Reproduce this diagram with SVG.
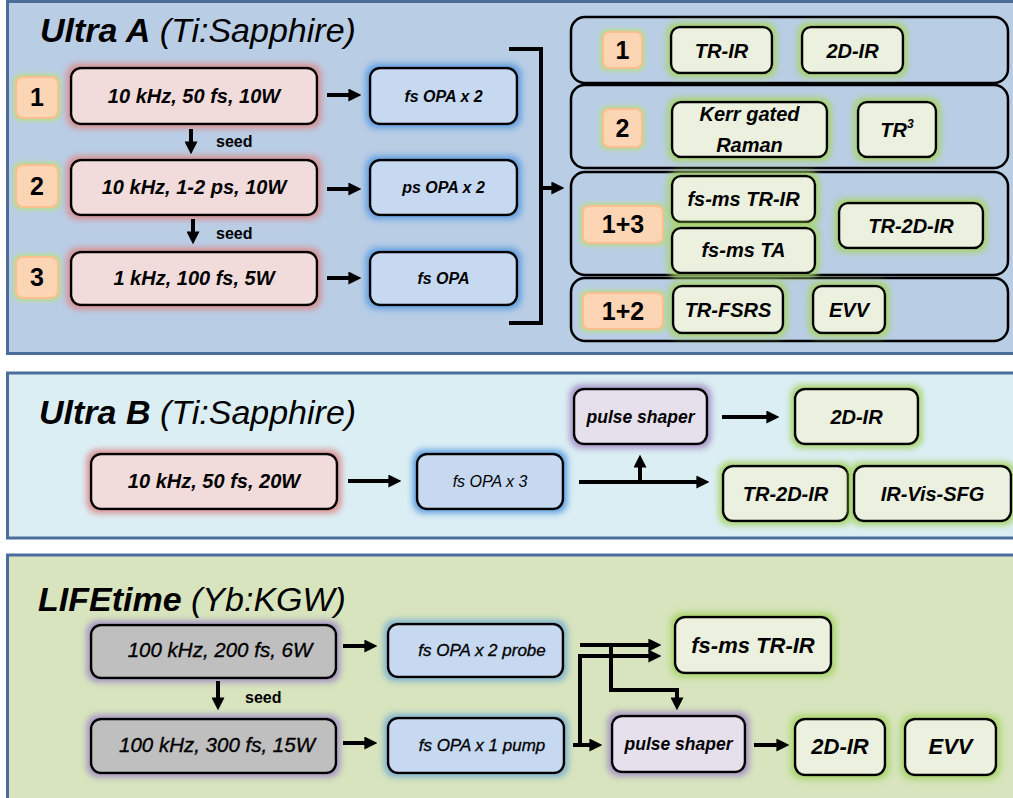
<svg xmlns="http://www.w3.org/2000/svg" width="1013" height="798" viewBox="0 0 1013 798">
<defs>
<style>
text{font-family:"Liberation Sans",Arial,sans-serif;fill:#000}
.title{font-size:34px;font-style:italic}
.b{font-weight:bold}
.lbl{font-size:20px;font-weight:bold;font-style:italic;text-anchor:middle}
.lbl22{font-size:22px;font-weight:bold;font-style:italic;text-anchor:middle}
.lblr{font-size:20.5px;font-style:italic;text-anchor:middle;stroke:#000;stroke-width:0.35}
.opa{font-size:16px;font-weight:bold;font-style:italic;text-anchor:middle}
.opar{font-size:17px;font-style:italic;text-anchor:middle;stroke:#000;stroke-width:0.3}
.shp{font-size:17.5px;font-weight:bold;font-style:italic;text-anchor:middle}
.opan{font-size:16px;font-style:italic;text-anchor:middle}
.num{font-size:25px;font-weight:bold;text-anchor:middle}
.seed{font-size:16px;font-weight:bold}
.panel{stroke:#4a6d9c;stroke-width:3}
.box{stroke:#000;stroke-width:2.5}
.red{fill:#f2dcdb;filter:url(#gRed)}
.blue{fill:#c6d9f1;filter:url(#gBlue)}
.green{fill:#ebf1de;filter:url(#gGreen)}
.purp{fill:#e6e0ec;filter:url(#gPurp)}
.gray{fill:#bfbfbf;filter:url(#gPurp)}
.blue2{fill:#c6d9f1;filter:url(#gTeal)}
.badge{fill:#fcd5b5;stroke:#f9bf8f;stroke-width:2;filter:url(#gBadge)}
.row{fill:#b9cde5;stroke:#000;stroke-width:2.5}
.conn path{stroke:#000;stroke-width:4;fill:none}
.ah{marker-end:url(#ah)}
</style>
<marker id="ah" viewBox="0 0 10 10" refX="2" refY="5" markerWidth="13" markerHeight="13" markerUnits="userSpaceOnUse" orient="auto"><path d="M0,0 L10,5 L0,10 z" fill="#000"/></marker>
<filter id="gRed" x="-15%" y="-30%" width="130%" height="160%"><feMorphology in="SourceAlpha" operator="dilate" radius="3" result="d"/><feGaussianBlur in="d" stdDeviation="3" result="bl"/><feFlood flood-color="#d98f8f"/><feComposite in2="bl" operator="in" result="g"/><feMerge><feMergeNode in="g"/><feMergeNode in="SourceGraphic"/></feMerge></filter>
<filter id="gBlue" x="-15%" y="-30%" width="130%" height="160%"><feMorphology in="SourceAlpha" operator="dilate" radius="3" result="d"/><feGaussianBlur in="d" stdDeviation="3" result="bl"/><feFlood flood-color="#5f9ee0"/><feComposite in2="bl" operator="in" result="g"/><feMerge><feMergeNode in="g"/><feMergeNode in="SourceGraphic"/></feMerge></filter>
<filter id="gGreen" x="-15%" y="-30%" width="130%" height="160%"><feMorphology in="SourceAlpha" operator="dilate" radius="3" result="d"/><feGaussianBlur in="d" stdDeviation="3" result="bl"/><feFlood flood-color="#a8d46a"/><feComposite in2="bl" operator="in" result="g"/><feMerge><feMergeNode in="g"/><feMergeNode in="SourceGraphic"/></feMerge></filter>
<filter id="gPurp" x="-15%" y="-30%" width="130%" height="160%"><feMorphology in="SourceAlpha" operator="dilate" radius="3" result="d"/><feGaussianBlur in="d" stdDeviation="3" result="bl"/><feFlood flood-color="#a592c4"/><feComposite in2="bl" operator="in" result="g"/><feMerge><feMergeNode in="g"/><feMergeNode in="SourceGraphic"/></feMerge></filter>
<filter id="gTeal" x="-15%" y="-30%" width="130%" height="160%"><feMorphology in="SourceAlpha" operator="dilate" radius="3" result="d"/><feGaussianBlur in="d" stdDeviation="3" result="bl"/><feFlood flood-color="#7fb2cf"/><feComposite in2="bl" operator="in" result="g"/><feMerge><feMergeNode in="g"/><feMergeNode in="SourceGraphic"/></feMerge></filter>
<filter id="gBadge" x="-30%" y="-30%" width="160%" height="160%"><feMorphology in="SourceAlpha" operator="dilate" radius="2" result="d"/><feGaussianBlur in="d" stdDeviation="2" result="bl"/><feFlood flood-color="#b9dc8f"/><feComposite in2="bl" operator="in" result="g"/><feMerge><feMergeNode in="g"/><feMergeNode in="SourceGraphic"/></feMerge></filter>
</defs>

<!-- Panels -->
<g id="panel-ultra-a">
<rect class="panel" x="7.5" y="1.5" width="1010" height="352" fill="#b9cde5"/>
<text class="title" x="40" y="42"><tspan class="b">Ultra A</tspan> (Ti:Sapphire)</text>
</g>
<g id="panel-ultra-b">
<rect class="panel" x="7.5" y="373" width="1010" height="165" fill="#dbeef4"/>
<text class="title" x="39" y="424"><tspan class="b">Ultra B</tspan> (Ti:Sapphire)</text>
</g>
<g id="panel-lifetime">
<rect class="panel" x="7.5" y="555" width="1010" height="260" fill="#d7e4bd"/>
<text class="title" x="38" y="611"><tspan class="b">LIFEtime</tspan> (Yb:KGW)</text>
</g>

<!-- Ultra A nodes -->
<g id="a-badge1"><rect class="badge" x="16" y="77" width="42" height="41" rx="7"/><text class="num" x="37" y="106">1</text></g>
<g id="a-badge2"><rect class="badge" x="16" y="165" width="42" height="42" rx="7"/><text class="num" x="37" y="195">2</text></g>
<g id="a-badge3"><rect class="badge" x="16" y="257" width="42" height="41" rx="7"/><text class="num" x="37" y="286">3</text></g>

<g id="a-laser1"><rect class="box red" x="71" y="68" width="246" height="56" rx="10"/><text class="lbl" x="194" y="103">10 kHz, 50 fs, 10W</text></g>
<g id="a-laser2"><rect class="box red" x="71" y="160" width="246" height="55" rx="10"/><text class="lbl" x="194" y="194">10 kHz, 1-2 ps, 10W</text></g>
<g id="a-laser3"><rect class="box red" x="71" y="252" width="246" height="53" rx="10"/><text class="lbl" x="194" y="285">1 kHz, 100 fs, 5W</text></g>

<g id="a-opa1"><rect class="box blue" x="370" y="68" width="147" height="56" rx="10"/><text class="opa" x="443.5" y="102">fs OPA x 2</text></g>
<g id="a-opa2"><rect class="box blue" x="370" y="160" width="147" height="55" rx="10"/><text class="opa" x="443.5" y="193">ps OPA x 2</text></g>
<g id="a-opa3"><rect class="box blue" x="370" y="252" width="147" height="53" rx="10"/><text class="opa" x="443.5" y="284">fs OPA</text></g>

<g id="a-row1"><rect class="row" x="571" y="17" width="437" height="66" rx="14"/></g>
<g id="a-row2"><rect class="row" x="571" y="85" width="437" height="83" rx="14"/></g>
<g id="a-row3"><rect class="row" x="571" y="172" width="437" height="103" rx="14"/></g>
<g id="a-row4"><rect class="row" x="571" y="278" width="437" height="63" rx="14"/></g>

<g id="r-badge1"><rect class="badge" x="603" y="32" width="39" height="36" rx="6"/><text class="num" x="622.5" y="59">1</text></g>
<g id="r-badge2"><rect class="badge" x="603" y="109" width="39" height="38" rx="6"/><text class="num" x="622.5" y="137">2</text></g>
<g id="r-badge13"><rect class="badge" x="583" y="206" width="80" height="37" rx="6"/><text class="num" x="623" y="233">1+3</text></g>
<g id="r-badge12"><rect class="badge" x="583" y="293" width="80" height="36" rx="6"/><text class="num" x="623" y="320">1+2</text></g>

<g id="r-trir"><rect class="box green" x="671" y="27" width="101" height="46" rx="9"/><text class="lbl" x="721.5" y="58">TR-IR</text></g>
<g id="r-2dir"><rect class="box green" x="802" y="27" width="101" height="46" rx="9"/><text class="lbl" x="852.5" y="58">2D-IR</text></g>
<g id="r-kerr"><rect class="box green" x="672" y="102" width="155" height="55" rx="9"/><text class="lbl" x="749.5" y="121">Kerr gated</text><text class="lbl" x="749.5" y="152">Raman</text></g>
<g id="r-tr3"><rect class="box green" x="858" y="102" width="78" height="55" rx="9"/><text class="lbl" x="897" y="137">TR<tspan font-size="12" dy="-9">3</tspan></text></g>
<g id="r-fsmstrir"><rect class="box green" x="672" y="176" width="143" height="46" rx="9"/><text class="lbl" x="743.5" y="206">fs-ms TR-IR</text></g>
<g id="r-fsmsta"><rect class="box green" x="672" y="228" width="143" height="45" rx="9"/><text class="lbl" x="743.5" y="257">fs-ms TA</text></g>
<g id="r-tr2dir"><rect class="box green" x="839" y="203" width="144" height="45" rx="9"/><text class="lbl" x="911" y="233">TR-2D-IR</text></g>
<g id="r-trfsrs"><rect class="box green" x="673" y="286" width="110" height="47" rx="9"/><text class="lbl" x="728" y="317">TR-FSRS</text></g>
<g id="r-evv"><rect class="box green" x="813" y="286" width="72" height="47" rx="9"/><text class="lbl" x="849" y="317">EVV</text></g>

<!-- Ultra B nodes -->
<g id="b-laser"><rect class="box red" x="91" y="454" width="246" height="55" rx="10"/><text class="lbl" x="214" y="488">10 kHz, 50 fs, 20W</text></g>
<g id="b-opa"><rect class="box blue" x="417" y="454" width="146" height="55" rx="10"/><text class="opan" x="490" y="487">fs OPA x 3</text></g>
<g id="b-shaper"><rect class="box purp" x="574" y="389" width="133" height="55" rx="10"/><text class="shp" x="640.5" y="423">pulse shaper</text></g>
<g id="b-2dir"><rect class="box green" x="795" y="389" width="123" height="55" rx="10"/><text class="lbl" x="856.5" y="424">2D-IR</text></g>
<g id="b-tr2dir"><rect class="box green" x="723" y="466" width="125" height="55" rx="10"/><text class="lbl" x="785.5" y="501">TR-2D-IR</text></g>
<g id="b-sfg"><rect class="box green" x="854" y="466" width="157" height="55" rx="10"/><text class="lbl" x="932.5" y="501">IR-Vis-SFG</text></g>

<!-- LIFEtime nodes -->
<g id="c-laser1"><rect class="box gray" x="91" y="625" width="245" height="53" rx="10"/><text class="lblr" x="220" y="657">100 kHz, 200 fs, 6W</text></g>
<g id="c-laser2"><rect class="box gray" x="91" y="719" width="245" height="54" rx="10"/><text class="lblr" x="217" y="752">100 kHz, 300 fs, 15W</text></g>
<g id="c-opa1"><rect class="box blue2" x="388" y="624" width="175" height="53" rx="10"/><text class="opar" x="482" y="656">fs OPA x 2 probe</text></g>
<g id="c-opa2"><rect class="box blue2" x="388" y="718" width="176" height="55" rx="10"/><text class="opar" x="482" y="751">fs OPA x 1 pump</text></g>
<g id="c-fsms"><rect class="box green" x="675" y="617" width="156" height="56" rx="10"/><text class="lbl22" x="753" y="653">fs-ms TR-IR</text></g>
<g id="c-shaper"><rect class="box purp" x="612" y="716" width="133" height="56" rx="10"/><text class="shp" x="678.5" y="750">pulse shaper</text></g>
<g id="c-2dir"><rect class="box green" x="795" y="719" width="90" height="56" rx="10"/><text class="lbl22" x="840" y="754">2D-IR</text></g>
<g id="c-evv"><rect class="box green" x="905" y="719" width="91" height="56" rx="10"/><text class="lbl22" x="950.5" y="754">EVV</text></g>

<!-- Connectors -->
<g id="connectors" class="conn">
<path class="ah" d="M327,95 H351"/>
<path class="ah" d="M327,189 H351"/>
<path class="ah" d="M327,278 H351"/>
<path class="ah" d="M191,129 V144"/>
<path class="ah" d="M193,219 V234"/>
<path d="M509,49 H541 V323 H509"/>
<path class="ah" d="M541,188 H554"/>

<path class="ah" d="M348,481 H391"/>
<path class="ah" d="M579,482 H699"/>
<path class="ah" d="M640,482 V465"/>
<path class="ah" d="M722,417 H769"/>

<path class="ah" d="M343,646 H367"/>
<path class="ah" d="M343,743 H367"/>
<path class="ah" d="M580,645 H651"/>
<path class="ah" d="M573,745 H592"/>
<path class="ah" d="M580,745 V656 H651"/>
<path class="ah" d="M611,645 V690 H677 V700"/>
<path class="ah" d="M754,745 H779"/>
<path class="ah" d="M218,681 V700"/>
</g>
<text class="seed" x="216" y="147">seed</text>
<text class="seed" x="216" y="239">seed</text>
<text class="seed" x="245" y="703">seed</text>
</svg>
